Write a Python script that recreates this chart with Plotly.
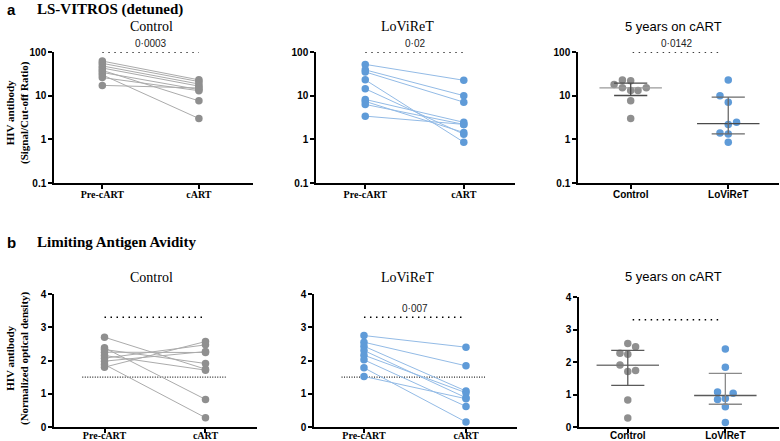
import plotly.graph_objects as go

# ---------------- data ----------------
pair_labels = ["Pre-cART", "cART"]
group_labels = ["Control", "LoViReT"]

# Panel a: LS-VITROS (signal / cut-off ratio)
a_ctrl_pre = [62, 55, 48, 43, 38, 34, 30, 26, 17.2]
a_ctrl_cart = [23, 21, 18.5, 16.5, 7.6, 13.8, 3.0, 13.0, 15.0]
a_lov_pre = [52, 39, 35, 23, 14.4, 8.2, 7.4, 6.3, 3.4]
a_lov_cart = [22.5, 10, 7.1, 0.86, 1.31, 2.45, 1.43, 2.2, 2.2]

a5_ctrl = [18.1, 22.7, 22.0, 15.1, 13.2, 13.2, 15.1, 7.6, 3.0]
a5_lov = [22.7, 10.0, 7.1, 2.45, 2.2, 1.4, 1.32, 0.86]
a5_ctrl_stats = [10.1, 15.1, 19.4]   # q1, median, q3
a5_lov_stats = [1.33, 2.3, 9.3]

# Panel b: Limiting Antigen Avidity (normalized optical density)
b_ctrl_pre = [2.70, 2.38, 2.33, 2.25, 2.15, 2.07, 1.98, 1.88, 1.80]
b_ctrl_cart = [1.74, 0.83, 1.91, 2.24, 1.71, 2.47, 2.27, 0.28, 2.57]
b_lov_pre = [2.75, 2.55, 2.43, 2.30, 2.16, 2.02, 1.78, 1.52]
b_lov_cart = [2.40, 1.84, 1.08, 0.88, 1.03, 0.62, 0.15, 0.85]

b5_ctrl = [2.57, 2.47, 2.27, 2.24, 1.91, 1.71, 1.74, 0.83, 0.28]
b5_lov = [2.40, 1.84, 1.08, 1.04, 0.85, 0.88, 0.62, 0.14]
b5_ctrl_stats = [1.28, 1.90, 2.36]
b5_lov_stats = [0.70, 0.97, 1.65]

p_values = {"a_ctrl": "0·0003", "a_lov": "0·02", "a5": "0·0142",
            "b_ctrl": "", "b_lov": "0·007", "b5": ""}
a_sig_level = 100
b_sig_level = 3.3
b_threshold = 1.5

log_ticks = [0.1, 1, 10, 100]
log_ticktext = ["0.1", "1", "10", "100"]
lin_ticks = [0, 1, 2, 3, 4]

# ---------------- style ----------------
W, H = 780, 441
GREY = "#8f8f8f"
GREY_LINE = "#ababab"
BLUE = "#5f9bd8"
BLUE_LINE = "#93bbe6"
SERIF = "Liberation Serif, Times New Roman, serif"
SANS = "Liberation Sans, Arial, sans-serif"

# jitter offsets for the 5-year scatter (display only)
a5_ctrl_jit = [-0.17, -0.085, 0, -0.085, 0, 0.075, 0.16, 0, 0]
a5_lov_jit = [0, -0.085, 0, 0.085, 0, -0.085, 0, 0]
b5_ctrl_jit = [0, 0.08, -0.08, 0, -0.08, 0, 0.08, 0, 0]
b5_lov_jit = [0, 0, -0.08, 0.08, -0.08, 0, 0, 0]


def px_x(p):
    return p / W


def px_y(p):
    return 1 - p / H


fig = go.Figure()

panels = {
    # name: (axis idx, x px domain, y px domain (top,bottom), xrange, log?, label standoff)
    "a_ctrl": (1, (54, 253), (52, 183), [-0.5, 1.56], True, -3),
    "a_lov": (2, (316, 515), (52, 183), [-0.5, 1.52], True, -3),
    "a5": (3, (578, 779), (52, 183), [-0.54, 1.52], True, -3),
    "b_ctrl": (4, (54, 257), (294, 427), [-0.5, 1.51], False, -6),
    "b_lov": (5, (314, 517), (294, 427), [-0.49, 1.5], False, -6),
    "b5": (6, (579, 779), (297, 427), [-0.5, 1.55], False, -6),
}

layout = {}
for name, (i, xd, yd, xr, is_log, so) in panels.items():
    xa = "xaxis" if i == 1 else f"xaxis{i}"
    ya = "yaxis" if i == 1 else f"yaxis{i}"
    is5 = name.endswith("5")
    layout[xa] = dict(
        domain=[px_x(xd[0]), px_x(xd[1])], anchor=f"y{i if i > 1 else ''}",
        range=xr, showgrid=False, zeroline=False, showline=True,
        automargin=False, ticklabelstandoff=so,
        linecolor="black", linewidth=1.5, ticks="outside", ticklen=4,
        tickwidth=1.5, tickcolor="black", tickmode="array", tickvals=[0, 1],
        ticktext=group_labels if is5 else pair_labels,
        tickfont=dict(family=SANS if is5 else SERIF, size=10, color="black",
                      weight="bold"),
    )
    ya_d = dict(
        domain=[px_y(yd[1]), px_y(yd[0])], anchor=f"x{i if i > 1 else ''}",
        showgrid=False, zeroline=False, showline=True, linecolor="black",
        automargin=False,
        linewidth=1.5, ticks="outside", ticklen=4, tickwidth=1.5,
        tickcolor="black",
        tickfont=dict(family=SANS, size=10, color="black", weight="bold"),
    )
    if is_log:
        ya_d.update(type="log", range=[-1, 2], tickmode="array",
                    tickvals=log_ticks, ticktext=log_ticktext)
    else:
        ya_d.update(range=[0, 4], tickmode="array", tickvals=lin_ticks)
    layout[ya] = ya_d


def axes(name):
    i = panels[name][0]
    return ("x" if i == 1 else f"x{i}"), ("y" if i == 1 else f"y{i}")


def add_pairs(name, pre, post, col, lcol):
    xa, ya = axes(name)
    for a, b in zip(pre, post):
        fig.add_trace(go.Scatter(
            x=[0, 1], y=[a, b], mode="lines", xaxis=xa, yaxis=ya,
            line=dict(color=lcol, width=1), showlegend=False, hoverinfo="skip"))
    fig.add_trace(go.Scatter(
        x=[0] * len(pre) + [1] * len(post), y=list(pre) + list(post),
        mode="markers", xaxis=xa, yaxis=ya,
        marker=dict(color=col, size=7.5), showlegend=False))


def add_sig(name, level, xs, text):
    xa, ya = axes(name)
    fig.add_trace(go.Scatter(
        x=xs, y=[level, level], mode="lines", xaxis=xa, yaxis=ya,
        line=dict(color="black", width=1.5, dash="1.5px,4.5px"),
        showlegend=False, hoverinfo="skip", cliponaxis=False))
    if text:
        is_log = panels[name][4]
        fig.add_annotation(
            x=(xs[0] + xs[1]) / 2, y=2 if is_log else level, xref=xa, yref=ya,
            text=text, showarrow=False, yshift=9,
            font=dict(family=SANS, size=10, color="#222"))


def add_scatter5(name, pos, vals, jit, stats, col, med_col, bar_col):
    xa, ya = axes(name)
    q1, med, q3 = stats
    fig.add_trace(go.Scatter(
        x=[pos + j for j in jit], y=vals, mode="markers", xaxis=xa, yaxis=ya,
        marker=dict(color=col, size=7.5), showlegend=False))
    fig.add_trace(go.Scatter(
        x=[pos - 0.32, pos + 0.32], y=[med, med], mode="lines", xaxis=xa,
        yaxis=ya, line=dict(color=med_col, width=1.3), showlegend=False,
        hoverinfo="skip"))
    for v in (q1, q3):
        fig.add_trace(go.Scatter(
            x=[pos - 0.17, pos + 0.17], y=[v, v], mode="lines", xaxis=xa,
            yaxis=ya, line=dict(color=bar_col, width=1.3), showlegend=False,
            hoverinfo="skip"))
    fig.add_trace(go.Scatter(
        x=[pos, pos], y=[q1, q3], mode="lines", xaxis=xa, yaxis=ya,
        line=dict(color=bar_col, width=1.3), showlegend=False,
        hoverinfo="skip"))


def add_threshold(name, level):
    xa, ya = axes(name)
    fig.add_trace(go.Scatter(
        x=[-0.22, 1.2], y=[level, level], mode="lines", xaxis=xa, yaxis=ya,
        line=dict(color="#222", width=1.2, dash="1px,1.5px"), showlegend=False,
        hoverinfo="skip"))


# Panel a
add_pairs("a_ctrl", a_ctrl_pre, a_ctrl_cart, GREY, GREY_LINE)
add_pairs("a_lov", a_lov_pre, a_lov_cart, BLUE, BLUE_LINE)
add_sig("a_ctrl", a_sig_level, [0, 1], p_values["a_ctrl"])
add_sig("a_lov", a_sig_level, [0, 1], p_values["a_lov"])
add_scatter5("a5", 0, a5_ctrl, a5_ctrl_jit, a5_ctrl_stats, GREY, "#9a9a9a", "#4a4a4a")
add_scatter5("a5", 1, a5_lov, a5_lov_jit, a5_lov_stats, BLUE, "#4a4a4a", "#6a6a6a")
add_sig("a5", a_sig_level, [0.02, 0.93], p_values["a5"])

# Panel b
add_threshold("b_ctrl", b_threshold)
add_threshold("b_lov", b_threshold)
add_pairs("b_ctrl", b_ctrl_pre, b_ctrl_cart, GREY, GREY_LINE)
add_pairs("b_lov", b_lov_pre, b_lov_cart, BLUE, BLUE_LINE)
add_sig("b_ctrl", b_sig_level, [0, 1], p_values["b_ctrl"])
add_sig("b_lov", b_sig_level, [0, 1], p_values["b_lov"])
add_scatter5("b5", 0, b5_ctrl, b5_ctrl_jit, b5_ctrl_stats, GREY, "#7a7a7a", "#5a5a5a")
add_scatter5("b5", 1, b5_lov, b5_lov_jit, b5_lov_stats, BLUE, "#5a5a5a", "#8a8a8a")
add_sig("b5", b_sig_level, [0.05, 0.97], p_values["b5"])

# -------------- text annotations --------------
def paper_text(x, y, text, font, xanchor="center", angle=0):
    fig.add_annotation(x=px_x(x), y=px_y(y), xref="paper", yref="paper",
                       text=text, showarrow=False, xanchor=xanchor,
                       yanchor="middle", textangle=angle, font=font)


BOLD_SANS = dict(family=SANS, size=15, color="black", weight="bold")
BOLD_SERIF = dict(family=SERIF, size=15, color="black", weight="bold")
SUB_SERIF = dict(family=SERIF, size=14, color="black")
SUB_SANS = dict(family=SANS, size=13, color="black")
YT = dict(family=SERIF, size=11, color="black", weight="bold")

paper_text(5, 10, "a", BOLD_SANS, "left")
paper_text(35, 10, "LS-VITROS (detuned)", BOLD_SERIF, "left")
paper_text(151, 27, "Control", SUB_SERIF)
paper_text(407, 27, "LoViReT", SUB_SERIF)
paper_text(673, 27, "5 years on cART", SUB_SANS)

paper_text(5, 242, "b", BOLD_SANS, "left")
paper_text(35, 242, "Limiting Antigen Avidity", BOLD_SERIF, "left")
paper_text(151, 277, "Control", SUB_SERIF)
paper_text(407, 277, "LoViReT", SUB_SERIF)
paper_text(673, 276, "5 years on cART", SUB_SANS)

paper_text(17, 113, "HIV antibody<br>(Signal/Cut-off Ratio)", YT, angle=-90)
paper_text(17, 358, "HIV antibody<br>(Normalized optical density)", YT, angle=-90)

fig.update_layout(
    width=W, height=H, margin=dict(l=0, r=0, t=0, b=0, autoexpand=False),
    paper_bgcolor="white", plot_bgcolor="white", showlegend=False,
    **layout)

fig.write_html("out.html", config={"displayModeBar": False})

# remove default page margins so the 780x441 figure fills the window exactly
with open("out.html", encoding="utf-8") as f:
    html = f.read()
html = html.replace(
    "<head>",
    "<head><style>html,body{margin:0;padding:0;overflow:hidden;}</style>", 1)
with open("out.html", "w", encoding="utf-8") as f:
    f.write(html)
